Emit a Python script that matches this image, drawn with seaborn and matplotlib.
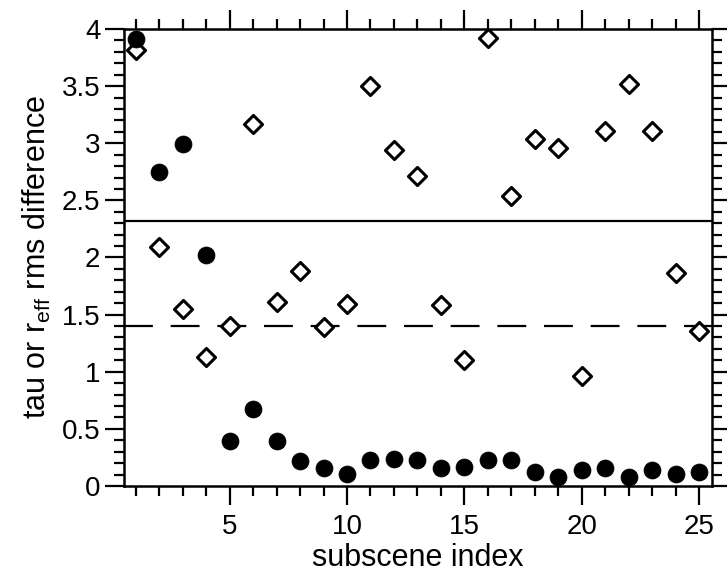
import matplotlib
matplotlib.use("Agg")
import matplotlib.pyplot as plt
import seaborn as sns
import pandas as pd
from matplotlib.ticker import MultipleLocator

subscene = list(range(1, 26))
reff_rms = [3.82, 2.09, 1.55, 1.13, 1.40, 3.17, 1.61, 1.88, 1.39, 1.59,
            3.50, 2.94, 2.71, 1.58, 1.10, 3.92, 2.54, 3.04, 2.96, 0.96,
            3.11, 3.52, 3.11, 1.86, 1.36]
tau_rms = [3.91, 2.75, 2.99, 2.02, 0.39, 0.67, 0.39, 0.22, 0.155, 0.105,
           0.23, 0.24, 0.23, 0.16, 0.17, 0.23, 0.23, 0.12, 0.08, 0.14,
           0.16, 0.08, 0.14, 0.105, 0.12]
solid_level = 2.32
dashed_level = 1.40
x_ticks = [5, 10, 15, 20, 25]
y_ticks = [0, 0.5, 1, 1.5, 2, 2.5, 3, 3.5, 4]

sns.set_style("ticks")
plt.rcParams['font.family'] = ['Liberation Sans', 'DejaVu Sans']
plt.rcParams['text.color'] = 'black'
plt.rcParams['axes.labelcolor'] = 'black'

df_r = pd.DataFrame({"idx": subscene, "val": reff_rms})
df_t = pd.DataFrame({"idx": subscene, "val": tau_rms})

fig = plt.figure(figsize=(7.27, 5.78), dpi=100)
ax = fig.add_axes([0.1706, 0.1592, 0.8088, 0.7906])

ax.axhline(solid_level, color="black", lw=1.6, zorder=1)
ax.axhline(dashed_level, color="black", lw=1.6, dashes=(13, 8), zorder=1)

sns.scatterplot(data=df_r, x="idx", y="val", ax=ax, marker="D", s=85,
                facecolor="white", edgecolor="black", linewidth=2.2, zorder=3)
sns.scatterplot(data=df_t, x="idx", y="val", ax=ax, marker="o", s=150,
                color="black", edgecolor="black", linewidth=0.5, zorder=4)

ax.set_xlim(0.5, 25.55)
ax.set_ylim(0, 4)
ax.set_xticks(x_ticks)
ax.set_yticks(y_ticks)
ax.set_yticklabels([("%g" % v) for v in y_ticks])
ax.xaxis.set_minor_locator(MultipleLocator(1))
ax.yaxis.set_minor_locator(MultipleLocator(0.1))
ax.tick_params(which="both", direction="out", top=True, right=True,
               width=1.6, colors="black", labelsize=20)
ax.tick_params(which="major", length=14)
ax.tick_params(which="minor", length=7)
ax.tick_params(axis="y", which="major", pad=3)
ax.tick_params(axis="x", which="major", pad=6)
for sp in ax.spines.values():
    sp.set_linewidth(1.8)
    sp.set_color("black")

ax.set_xlabel("subscene index", fontsize=22, labelpad=2, color="black")
ax.set_ylabel(r"tau or r$_{\mathregular{eff}}$ rms difference", fontsize=22,
              labelpad=6, color="black")

fig.savefig("out.png", dpi=100)
